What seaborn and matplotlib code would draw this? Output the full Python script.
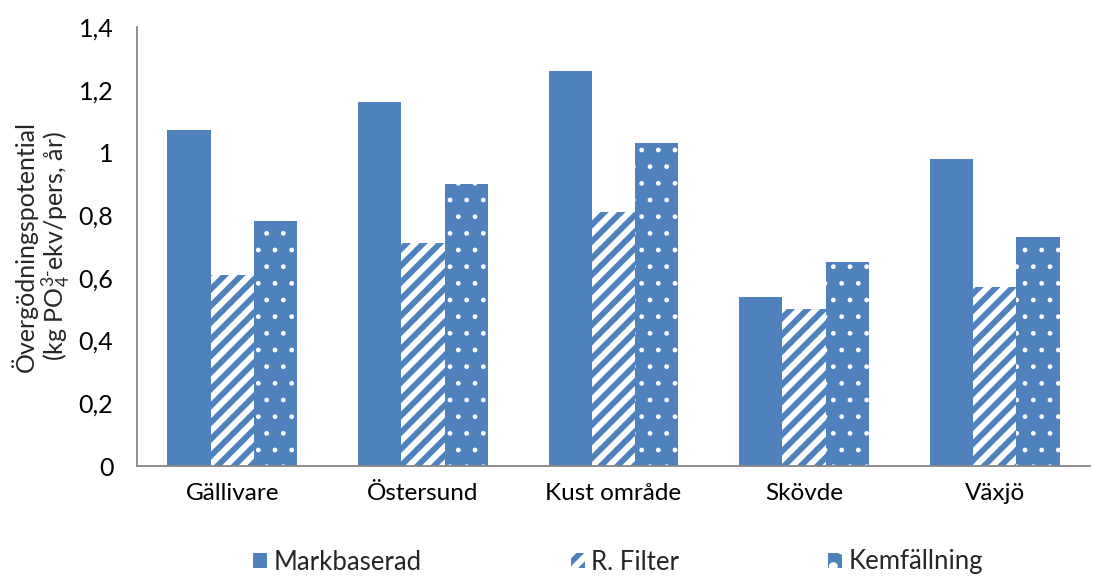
import matplotlib
matplotlib.use("Agg")
import matplotlib.pyplot as plt
import seaborn as sns
import pandas as pd

# Data: eutrophication potential per treatment type and site
sites = ["Gällivare", "Östersund", "Kust område", "Skövde", "Växjö"]
series = ["Markbaserad", "R. Filter", "Kemfällning"]
markbaserad = [1.07, 1.16, 1.26, 0.54, 0.98]
r_filter = [0.61, 0.71, 0.81, 0.50, 0.57]
kemfallning = [0.78, 0.90, 1.03, 0.65, 0.73]
yticks = [0, 0.2, 0.4, 0.6, 0.8, 1.0, 1.2, 1.4]
ytick_labels = ["0", "0,2", "0,4", "0,6", "0,8", "1", "1,2", "1,4"]

sns.set_style("white")
plt.rcParams["font.family"] = ["Lato", "DejaVu Sans"]
plt.rcParams["mathtext.fontset"] = "custom"
plt.rcParams["mathtext.rm"] = "Lato"
plt.rcParams["mathtext.it"] = "Lato"
plt.rcParams["mathtext.default"] = "regular"
plt.rcParams["hatch.linewidth"] = 4.0

blue = "#4F81BD"

df = pd.DataFrame({
    "site": sites * 3,
    "serie": [s for s in series for _ in sites],
    "value": markbaserad + r_filter + kemfallning,
})

fig = plt.figure(figsize=(10.94, 5.77), dpi=100)
ax = fig.add_axes([137 / 1094, 111 / 577, 953 / 1094, 439 / 577])

sns.barplot(data=df, x="site", y="value", hue="serie", order=sites,
            hue_order=series, palette=[blue] * 3, width=0.68,
            saturation=1, errorbar=None, legend=False, ax=ax)

# Styling per series: solid, diagonal stripes, white dots
for cont, name in zip(ax.containers, series):
    for bar in cont:
        bar.set_linewidth(0)
        if name == "R. Filter":
            bar.set_facecolor("white")
            bar.set_edgecolor(blue)
            bar.set_hatch("//")
            try:
                bar.set_hatch_linewidth(4.2)
            except AttributeError:
                pass
        elif name == "Kemfällning":
            bar.set_facecolor(blue)
            bar.set_edgecolor("white")
            bar.set_hatch(".")
            try:
                bar.set_hatch_linewidth(1.0)
            except AttributeError:
                pass
        else:
            bar.set_facecolor(blue)
            bar.set_edgecolor(blue)

ax.set_ylim(0, 1.4)
ax.set_xlim(-0.5, len(sites) - 0.5)
ax.set_yticks(yticks)
ax.set_yticklabels(ytick_labels)
ax.tick_params(axis="y", length=0, pad=17, labelsize=18, colors="black")
ax.tick_params(axis="x", length=0, pad=12, labelsize=17.5, colors="black")
ax.set_xlabel("")
ax.set_ylabel("Övergödningspotential\n(kg PO$_4^{3\\text{-}}$ekv/pers, år)",
              fontsize=18, labelpad=4, linespacing=1.1)
ax.grid(False)
for side in ("top", "right"):
    ax.spines[side].set_visible(False)
for side in ("left", "bottom"):
    ax.spines[side].set_color("#868686")
    ax.spines[side].set_linewidth(1.3)

handles = [cont[0] for cont in ax.containers]
fig.legend(handles, series, loc="center left",
           bbox_to_anchor=(253 / 1094, 15 / 577), ncol=3, frameon=False,
           fontsize=18.5, handlelength=0.55, handleheight=0.55,
           handletextpad=0.25, columnspacing=5.8, borderpad=0,
           borderaxespad=0)

fig.savefig("out.png", dpi=100)
